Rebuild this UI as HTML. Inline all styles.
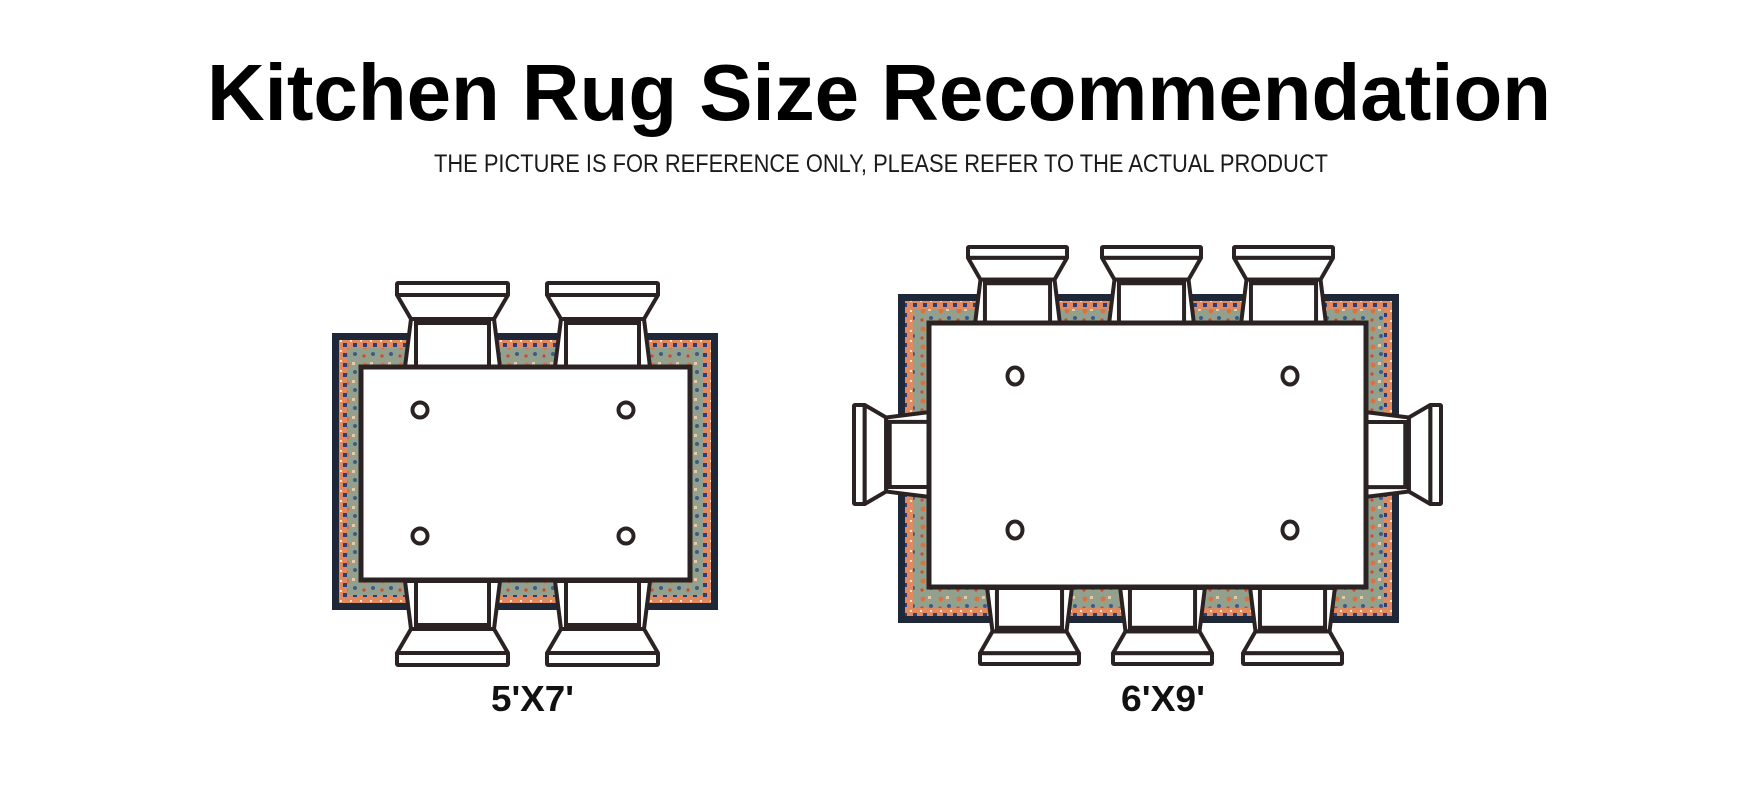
<!DOCTYPE html>
<html><head><meta charset="utf-8"><style>
html,body{margin:0;padding:0;background:#fff;}
svg{display:block;}
</style></head><body>
<svg width="1760" height="800" viewBox="0 0 1760 800" xmlns="http://www.w3.org/2000/svg">
<defs>
<pattern id="guard" width="10" height="10" patternUnits="userSpaceOnUse">
<rect width="10" height="10" fill="#e08a62"/>
<rect x="3" y="3" width="4" height="4" fill="#2c3e7a"/>
<rect x="0" y="0" width="2" height="2" fill="#f3e0b8"/>
</pattern>
<pattern id="field" width="18" height="18" patternUnits="userSpaceOnUse">
<rect width="18" height="18" fill="#94a08e"/>
<circle cx="5" cy="5" r="2.5" fill="#d8733f"/>
<circle cx="13" cy="12" r="2" fill="#3c5d8a"/>
<rect x="10" y="2" width="3" height="3" fill="#e6c9a8"/>
<circle cx="4" cy="14" r="1.6" fill="#c94a2e"/>
</pattern>
<g id="chair">
<rect x="0" y="0" width="111" height="12" fill="#fff" stroke="#2b2323" stroke-width="4" vector-effect="non-scaling-stroke" rx="1"/>
<polygon points="0,12 111,12 97,36 14,36" fill="#fff" stroke="#2b2323" stroke-width="4" vector-effect="non-scaling-stroke" stroke-linejoin="round"/>
<polygon points="14,36 97,36 103,84 8,84" fill="#fff" stroke="#2b2323" stroke-width="4" vector-effect="non-scaling-stroke" stroke-linejoin="round"/>
<rect x="19" y="40" width="73" height="44" fill="#fff" stroke="#2b2323" stroke-width="4" vector-effect="non-scaling-stroke"/>
</g>
</defs>

<text x="207" y="120" font-family="Liberation Sans, sans-serif" font-weight="bold" font-size="80" textLength="1344" lengthAdjust="spacingAndGlyphs" fill="#000">Kitchen Rug Size Recommendation</text>
<text x="434" y="172" font-family="Liberation Sans, sans-serif" font-size="25" textLength="894" lengthAdjust="spacingAndGlyphs" fill="#1a1a1a">THE PICTURE IS FOR REFERENCE ONLY, PLEASE REFER TO THE ACTUAL PRODUCT</text>

<!-- Small rug -->
<rect x="332" y="333" width="386" height="277" fill="#1e2838"/>
<rect x="339" y="340" width="372" height="263" fill="url(#guard)"/>
<rect x="347" y="348" width="356" height="247" fill="url(#field)"/>
<use href="#chair" transform="translate(397,283)"/>
<use href="#chair" transform="translate(547,283)"/>
<use href="#chair" transform="translate(397,665) scale(1,-1)"/>
<use href="#chair" transform="translate(547,665) scale(1,-1)"/>
<rect x="361" y="367" width="329" height="213" fill="#fff" stroke="#2b2323" stroke-width="5"/>
<g fill="none" stroke="#2b2323" stroke-width="4">
<circle cx="420" cy="410" r="7.5"/><circle cx="626" cy="410" r="7.5"/>
<circle cx="420" cy="536" r="7.5"/><circle cx="626" cy="536" r="7.5"/>
</g>

<!-- Large rug -->
<rect x="898" y="294" width="501" height="329" fill="#1e2838"/>
<rect x="905" y="301" width="487" height="315" fill="url(#guard)"/>
<rect x="913" y="309" width="471" height="299" fill="url(#field)"/>
<use href="#chair" transform="translate(968,247) scale(0.892,0.905)"/>
<use href="#chair" transform="translate(1102,247) scale(0.892,0.905)"/>
<use href="#chair" transform="translate(1234,247) scale(0.892,0.905)"/>
<use href="#chair" transform="translate(980,664) scale(0.892,-0.905)"/>
<use href="#chair" transform="translate(1113,664) scale(0.892,-0.905)"/>
<use href="#chair" transform="translate(1243,664) scale(0.892,-0.905)"/>
<use href="#chair" transform="translate(854,504) rotate(-90) scale(0.892,0.893)"/>
<use href="#chair" transform="translate(1441,405) rotate(90) scale(0.892,0.893)"/>
<rect x="929" y="323" width="437" height="264" fill="#fff" stroke="#2b2323" stroke-width="5"/>
<g fill="none" stroke="#2b2323" stroke-width="4">
<ellipse cx="1015" cy="376" rx="7.5" ry="8.5"/><ellipse cx="1290" cy="376" rx="7.5" ry="8.5"/>
<ellipse cx="1015" cy="530" rx="7.5" ry="8.5"/><ellipse cx="1290" cy="530" rx="7.5" ry="8.5"/>
</g>

<text x="491" y="711" font-family="Liberation Sans, sans-serif" font-weight="bold" font-size="36" textLength="83" lengthAdjust="spacingAndGlyphs" fill="#111">5'X7'</text>
<text x="1121" y="711" font-family="Liberation Sans, sans-serif" font-weight="bold" font-size="36" textLength="84" lengthAdjust="spacingAndGlyphs" fill="#111">6'X9'</text>
</svg>
</body></html>
